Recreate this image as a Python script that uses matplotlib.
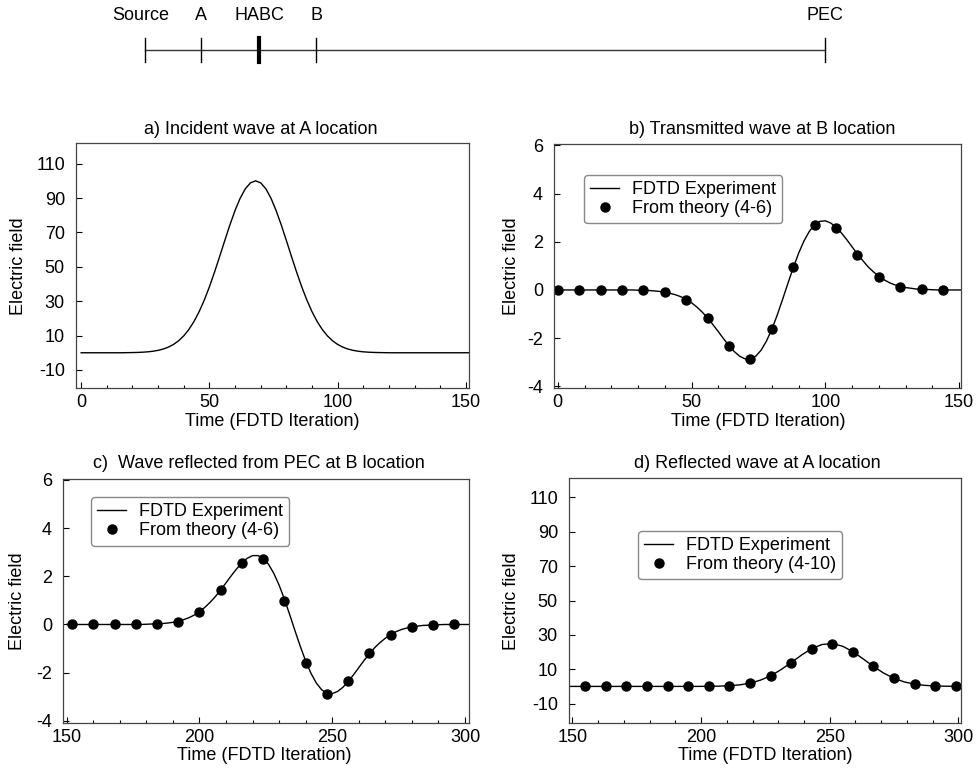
import numpy as np
import matplotlib
matplotlib.use("Agg")
import matplotlib.pyplot as plt
from matplotlib.ticker import MultipleLocator

plt.rcParams['font.family'] = ['Liberation Sans', 'DejaVu Sans']
plt.rcParams['axes.unicode_minus'] = False

# layout of the 1D problem space (relative positions along the grid)
grid_labels = ['Source', 'A', 'HABC', 'B', 'PEC']
grid_pos = [0, 56, 114, 171, 680]

# a) incident wave at A, sampled every 2 iterations from 0
t_a = np.arange(0, 153, 2)
e_a = [0, 0, 0, 0, 0, 0, 0, 0, 0,
       0.06, 0.11, 0.19, 0.33, 0.54, 0.88, 1.40, 2.16, 3.27, 4.83,
       6.98, 9.83, 13.53, 18.19, 23.89, 30.63, 38.34, 46.89, 55.99, 65.31,
       74.39, 82.75, 89.90, 95.38, 98.82, 100.0, 98.82, 95.38, 89.90, 82.75,
       74.39, 65.31, 55.99, 46.89, 38.34, 30.63, 23.89, 18.19, 13.53, 9.83,
       6.98, 4.83, 3.27, 2.16, 1.40, 0.88, 0.54, 0.33, 0.19, 0.11,
       0.06,
       0, 0, 0, 0, 0, 0, 0, 0, 0, 0, 0, 0, 0, 0, 0, 0, 0]

# b) transmitted wave at B, FDTD every 2 iterations from 0
t_b = np.arange(0, 153, 2)
e_b = [0, 0, 0, 0, 0, 0, 0, 0, 0, 0, 0, 0, 0, 0, 0,
       -0.01, -0.02, -0.02, -0.04, -0.06, -0.09, -0.14, -0.20, -0.28, -0.39,
       -0.53, -0.71, -0.92, -1.16, -1.44, -1.73, -2.03, -2.31, -2.56, -2.75,
       -2.86, -2.86, -2.75, -2.50, -2.12, -1.63, -1.05, -0.40, 0.27, 0.92,
       1.52, 2.03, 2.43, 2.71, 2.85, 2.87, 2.78, 2.61, 2.37, 2.09,
       1.79, 1.49, 1.22, 0.96, 0.75, 0.57, 0.42, 0.30, 0.21, 0.15,
       0.10, 0.07, 0.04, 0.03, 0.02, 0.01,
       0, 0, 0, 0, 0, 0]
tb_theory = np.arange(0, 145, 8)
eb_theory = [0, 0, 0, 0, -0.02, -0.09, -0.40, -1.17, -2.32, -2.85,
             -1.60, 0.95, 2.70, 2.57, 1.46, 0.55, 0.13, 0.02, 0]

# c) wave reflected from PEC at B
t_c = np.arange(150, 303, 2)
e_c = [0, 0, 0, 0, 0, 0, 0, 0, 0, 0, 0, 0, 0, 0, 0,
       0.01, 0.02, 0.02, 0.04, 0.06, 0.09, 0.14, 0.20, 0.28, 0.39,
       0.53, 0.71, 0.92, 1.16, 1.44, 1.73, 2.03, 2.31, 2.56, 2.75,
       2.86, 2.86, 2.75, 2.50, 2.12, 1.63, 1.05, 0.40, -0.27, -0.92,
       -1.52, -2.03, -2.43, -2.71, -2.85, -2.87, -2.78, -2.61, -2.37, -2.09,
       -1.79, -1.49, -1.22, -0.96, -0.75, -0.57, -0.42, -0.30, -0.21, -0.15,
       -0.10, -0.07, -0.04, -0.03, -0.02, -0.01,
       0, 0, 0, 0, 0, 0]
tc_theory = np.arange(152, 297, 8)
ec_theory = [0, 0, 0, 0, 0.03, 0.12, 0.53, 1.43, 2.56, 2.70,
             0.97, -1.58, -2.87, -2.34, -1.18, -0.42, -0.11, -0.03, 0]

# d) reflected wave at A
t_d = np.arange(147, 304, 4)
e_d = [0, 0, 0, 0, 0, 0, 0, 0, 0, 0, 0, 0, 0, 0.02,
       0.05, 0.15, 0.4, 0.9, 1.9, 3.6, 6.1, 9.7, 13.8, 18.2,
       22.0, 24.4, 24.9, 23.4, 20.2, 16.0, 11.6, 7.7, 4.7, 2.6,
       1.3, 0.6, 0.25, 0.1, 0.04, 0]
td_theory = np.arange(155, 300, 8)
ed_theory = [0, 0, 0, 0, 0, 0, 0.05, 0.4, 1.9, 6.1,
             13.8, 22.0, 24.9, 20.2, 11.6, 4.7, 1.3, 0.25, 0.04]

W, H = 976, 769
FS = 13


def box(l, t, r, b):
    # pixel box -> figure fraction
    return [l / W, 1 - b / H, (r - l) / W, (b - t) / H]


def setup(ax, xlim, ylim, yticks):
    ax.set_xlim(xlim)
    ax.set_ylim(ylim)
    ax.set_yticks(yticks)
    ax.xaxis.set_major_locator(MultipleLocator(50))
    ax.xaxis.set_minor_locator(MultipleLocator(10))
    ax.tick_params(which='major', direction='in', top=False, right=False,
                   length=4, width=0.8, labelsize=13)
    ax.tick_params(axis='y', pad=8)
    ax.tick_params(axis='x', pad=4)
    ax.tick_params(which='minor', direction='in', top=False, right=False,
                   length=2.5, width=0.8)
    for s in ax.spines.values():
        s.set_linewidth(0.9)
        s.set_color('#444444')


def label(fig, x, y, s, **kw):
    fig.text(x / W, 1 - y / H, s, fontsize=FS, **kw)


fig = plt.figure(figsize=(9.76, 7.69), dpi=100)

# problem space sketch
ax0 = fig.add_axes(box(145, 25, 825, 75))
ax0.set_xlim(0, 680)
ax0.set_ylim(-1, 1)
ax0.axis('off')
ax0.plot([grid_pos[0], grid_pos[-1]], [0, 0], color='#333333', lw=1, clip_on=False)
for name, p in zip(grid_labels, grid_pos):
    lw = 3 if name == 'HABC' else 1
    ax0.plot([p, p], [-0.48, 0.48], color='black', lw=lw, clip_on=False)
    ax0.text(p - (4 if name == 'Source' else 0), 1.36, name, fontsize=FS,
             ha='center', va='center')

line_kw = dict(color='black', lw=1.0)
dot_kw = dict(color='black', marker='o', ms=6.5, linestyle='none')
leg_kw = dict(loc='upper left', fontsize=FS, frameon=True, fancybox=True,
              edgecolor='#888888', framealpha=1, borderpad=0.35,
              labelspacing=0.1, handlelength=1.6, handletextpad=0.7,
              borderaxespad=0)

# a
ax = fig.add_axes(box(76, 143, 469, 388))
ax.plot(t_a, e_a, **line_kw)
setup(ax, (-2, 151.2), (-20.5, 122), [-10, 10, 30, 50, 70, 90, 110])
label(fig, 261, 134, 'a) Incident wave at A location', ha='center', va='baseline')
label(fig, 272, 426, 'Time (FDTD Iteration)', ha='center', va='baseline')
label(fig, 19, 266, 'Electric field', ha='center', va='center', rotation=90)

# b
ax = fig.add_axes(box(554, 144, 961, 388))
ax.plot(t_b, e_b, label='FDTD Experiment', **line_kw)
ax.plot(tb_theory, eb_theory, label='From theory (4-6)', **dot_kw)
setup(ax, (-1.4, 150.7), (-4.07, 6.06), [-4, -2, 0, 2, 4, 6])
ax.legend(bbox_to_anchor=(0.074, 0.873), **leg_kw)
label(fig, 762, 134, 'b) Transmitted wave at B location', ha='center', va='baseline')
label(fig, 758, 426, 'Time (FDTD Iteration)', ha='center', va='baseline')
label(fig, 512, 266, 'Electric field', ha='center', va='center', rotation=90)

# c
ax = fig.add_axes(box(63, 479, 469, 723))
ax.plot(t_c, e_c, label='FDTD Experiment', **line_kw)
ax.plot(tc_theory, ec_theory, label='From theory (4-6)', **dot_kw)
setup(ax, (148.6, 301.5), (-4.09, 6.04), [-4, -2, 0, 2, 4, 6])
ax.legend(bbox_to_anchor=(0.069, 0.926), **leg_kw)
label(fig, 259, 468, 'c)  Wave reflected from PEC at B location', ha='center', va='baseline')
label(fig, 264, 760, 'Time (FDTD Iteration)', ha='center', va='baseline')
label(fig, 18, 601, 'Electric field', ha='center', va='center', rotation=90)

# d
ax = fig.add_axes(box(569, 478, 961, 723))
ax.plot(t_d, e_d, label='FDTD Experiment', **line_kw)
ax.plot(td_theory, ed_theory, label='From theory (4-10)', **dot_kw)
setup(ax, (148.7, 301), (-21.3, 121.3), [-10, 10, 30, 50, 70, 90, 110])
ax.legend(bbox_to_anchor=(0.176, 0.784), **leg_kw)
label(fig, 757, 468, 'd) Reflected wave at A location', ha='center', va='baseline')
label(fig, 765, 760, 'Time (FDTD Iteration)', ha='center', va='baseline')
label(fig, 512, 601, 'Electric field', ha='center', va='center', rotation=90)

fig.savefig('out.png', dpi=100)
